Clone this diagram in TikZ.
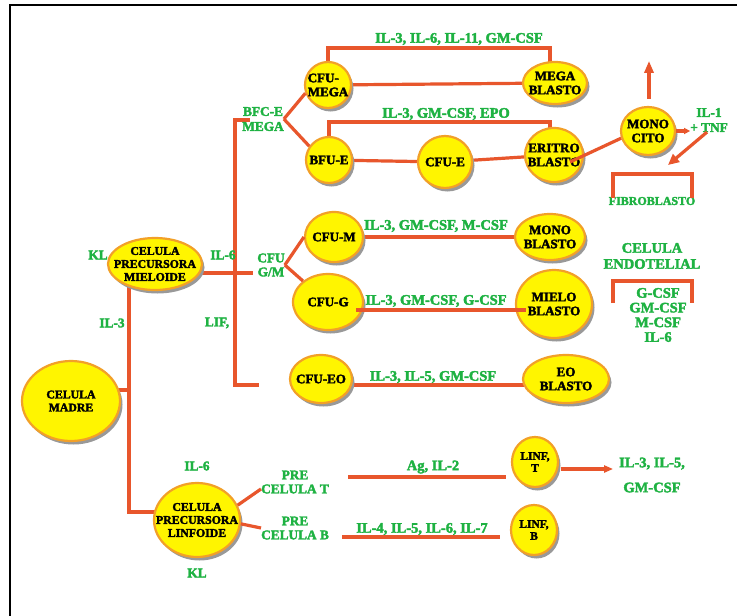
\documentclass[tikz,border=0pt]{standalone}
\usepackage{fontspec}
\setmainfont{Liberation Serif}[BoldFeatures={FakeBold=2.5}]
\usetikzlibrary{shapes.geometric,arrows.meta,backgrounds}

\definecolor{cellfill}{RGB}{255,245,0}
\definecolor{cellrim}{RGB}{242,160,40}
\definecolor{linkred}{RGB}{232,86,44}
\definecolor{facgreen}{RGB}{30,178,66}

\tikzset{
  cell/.style={ellipse, draw=cellrim, line width=2.2pt, fill=cellfill, inner sep=0pt},
  cellshade/.style={fill=black!40},
  celltext/.style={align=center, inner sep=0pt, font=\bfseries\fontsize{13}{14}\selectfont},
  bigtext/.style={celltext, font=\bfseries\fontsize{11.8}{13}\selectfont},
  linftext/.style={celltext, font=\bfseries\fontsize{11.5}{12}\selectfont},
  fac/.style={text=facgreen, align=center, inner sep=0pt, font=\bfseries\fontsize{14.5}{16}\selectfont},
  facs/.style={fac, font=\bfseries\fontsize{13.3}{15}\selectfont},
  link/.style={draw=linkred, line width=3.2pt},
  pointer/.style={link, -{Triangle[length=9pt,width=8pt]}},
}

% ellipse of fixed size with its shade, text set on top of it
\newcommand\bloodcell[6][celltext]{%
  \fill[cellshade, shift={(2.5,3.5)}] (#3) ellipse [x radius=#4/2, y radius=#5/2];
  \node[cell, minimum width=#4, minimum height=#5] (#2) at (#3) {};
  \node[#1] (#2-t) at (#2) {#6};
}

\begin{document}
\begin{tikzpicture}[x=1pt,y=-1pt]
  \useasboundingbox (0,0) rectangle (737,616);
  \begin{scope}[on background layer]
    \fill[white] (0,0) rectangle (737,616);
  \end{scope}
  \draw[line width=2pt] (10,616) -- (10,5) -- (737,5);

  %junctions of the tree
  \coordinate (jm) at (129,390);
  \coordinate (jt) at (129,280);
  \coordinate (jl) at (129,512);
  \coordinate (jg) at (253,273);
  \coordinate (lt) at (250,120);
  \coordinate (lb) at (259,385);
  \coordinate (megarow) at (440,48);
  \coordinate (eritrow) at (440,122);
  \coordinate (tline) at (348,477);
  \coordinate (bline) at (342,537);
  \coordinate (fibtip) at (668,165);

  %cells
  \bloodcell[bigtext]{madre}{71,401}{98}{80}{CELULA\\MADRE}
  \bloodcell[bigtext]{mieloide}{155,264}{94}{52}{CELULA\\PRECURSORA\\MIELOIDE}
  \bloodcell[bigtext]{linfoide}{197,520}{86}{74}{CELULA\\PRECURSORA\\LINFOIDE}
  \bloodcell[celltext,align=left]{cfumega}{328,85}{46}{46}{CFU-\\MEGA}
  \bloodcell{bfue}{329,160}{46}{46}{BFU-E}
  \bloodcell{cfue}{445,162}{54}{52}{CFU-E}
  \bloodcell{megab}{555,83}{64}{42}{MEGA\\BLASTO}
  \bloodcell{eritro}{554,155}{58}{54}{ERITRO\\BLASTO}
  \bloodcell{monocito}{648,131}{54}{48}{MONO\\CITO}
  \bloodcell{cfum}{334,237}{58}{50}{CFU-M}
  \bloodcell{cfug}{328,302}{70}{56}{CFU-G}
  \bloodcell{cfueo}{321,379}{62}{48}{CFU-EO}
  \bloodcell{monob}{550,237}{70}{46}{MONO\\BLASTO}
  \bloodcell{mielob}{554,304}{76}{68}{MIELO\\BLASTO}
  \bloodcell{eoblasto}{566,379}{86}{48}{EO\\BLASTO}
  \bloodcell[linftext]{linft}{535,462}{46}{50}{LINF,\\T}
  \bloodcell[linftext]{linfb}{534,530}{46}{50}{LINF,\\B}

  %growth factors on the lines
  \foreach \nm/\pos/\txt in {megaf/{459,39}/{IL-3, IL-6, IL-11, GM-CSF},
      eritf/{446,114}/{IL-3, GM-CSF, EPO},
      monof/{436,226}/{IL-3, GM-CSF, M-CSF},
      mielof/{436,301}/{IL-3, GM-CSF, G-CSF},
      eof/{433,377}/{IL-3, IL-5, GM-CSF},
      agf/{433,467}/{Ag, IL-2},
      bf/{422,529}/{IL-4, IL-5, IL-6, IL-7},
      endo/{652,256}/{CELULA\\ENDOTELIAL}}{
    \node[fac] (\nm) at (\pos) {\txt};
  }
  \node[fac, font=\bfseries\fontsize{14.5}{14.7}\selectfont] (endof) at (658,315) {G-CSF\\GM-CSF\\M-CSF\\IL-6};
  \node[fac, font=\bfseries\fontsize{14.5}{25}\selectfont] (tcellf) at (652,475) {IL-3, IL-5,\\GM-CSF};
  \node[facs] (tnf) at (709,120) {IL-1\\+ TNF};
  \node[fac, font=\bfseries\fontsize{12}{14}\selectfont] (fibro) at (652,201) {FIBROBLASTO};

  %small labels round the precursors
  \foreach \nm/\pos/\txt in {kla/{98,255}/KL, ilsa/{223,255}/IL-6, iltr/{112,323}/IL-3,
      lif/{217,323}/{LIF,}, ilsb/{197,466}/IL-6, klb/{197,573}/KL}{
    \node[facs] (\nm) at (\pos) {\txt};
  }
  \node[facs] (bfce) at (263,119) {BFC-E\\MEGA};
  \node[facs, font=\bfseries\fontsize{13.3}{14}\selectfont] (cfugm) at (271,265) {CFU\\G/M};
  \node[facs, font=\bfseries\fontsize{13.3}{14}\selectfont] (pret) at (295,482) {PRE\\CELULA T};
  \node[facs, font=\bfseries\fontsize{13.3}{14}\selectfont] (preb) at (295,528) {PRE\\CELULA B};

  %lines behind the cells
  \begin{scope}[on background layer]
    \draw[link] (madre.center |- jm) -- (jm);
    \draw[link] (jt) -- (jl) -- (linfoide.center |- jl);
    \draw[link] (mieloide.center |- jg) -- (jg);
    \draw[link] (lt) -- (lt -| 235,0) -- (lb -| 235,0) -- (lb);
    \draw[link] (cfumega) |- (megarow) -| ([xshift=-5pt]megab.center);
    \draw[link] (cfumega) -- (megab);
    \draw[link] (bfue) |- (eritrow) -| ([xshift=-4pt]eritro.center);
    \draw[link] (bfue) -- (cfue) -- (eritro);
    \draw[link] (cfum) -- (monob);
    \draw[link] ([yshift=-6pt]cfueo.center) -- ([yshift=-6pt]eoblasto.center);
  \end{scope}

  %lines over the cells
  \draw[link] (bfce.east) -- (cfumega.200);
  \draw[link] (bfce.east) -- (bfue.145);
  \draw[link] (cfugm.east) -- (cfum.west);
  \draw[link] (cfugm.east) -- (cfug.140);
  \draw[link] ([shift={(-8,8)}]cfug.east) -- ([shift={(11,6)}]mielob.west);
  \draw[link] ([shift={(16,7)}]eritro.center) -- (monocito.195);
  \draw[link] (linfoide.20) -- ([shift={(0,7)}]pret.west);
  \draw[link] (linfoide.-5) -- (preb.west);
  \draw[link] (tline) -- ([xshift=-5pt]tline -| linft.west);
  \draw[link] (bline) -- ([xshift=-10pt]bline -| linfb.west);

  %what the cells give out
  \draw[pointer, -{Triangle[length=9pt,width=7pt]}] ([shift={(2,7)}]linft.east) -- ++(52,0);
  \draw[pointer, -{Triangle[length=12pt,width=9pt]}] ([shift={(1,-7)}]monocito.north) -- ++(0,-38);
  \draw[pointer, -{Triangle[length=6pt,width=6pt]}] (monocito.east) -- ++(14,0);
  \draw[pointer, -{Triangle[length=11pt,width=10pt]}] ([xshift=-2pt]tnf.south) -- (fibtip);

  %brackets
  \draw[link] (613,198) |- (692,174) -- (692,198);
  \draw[link] (613,303) |- (692,281) -- (692,303);
\end{tikzpicture}
\end{document}
